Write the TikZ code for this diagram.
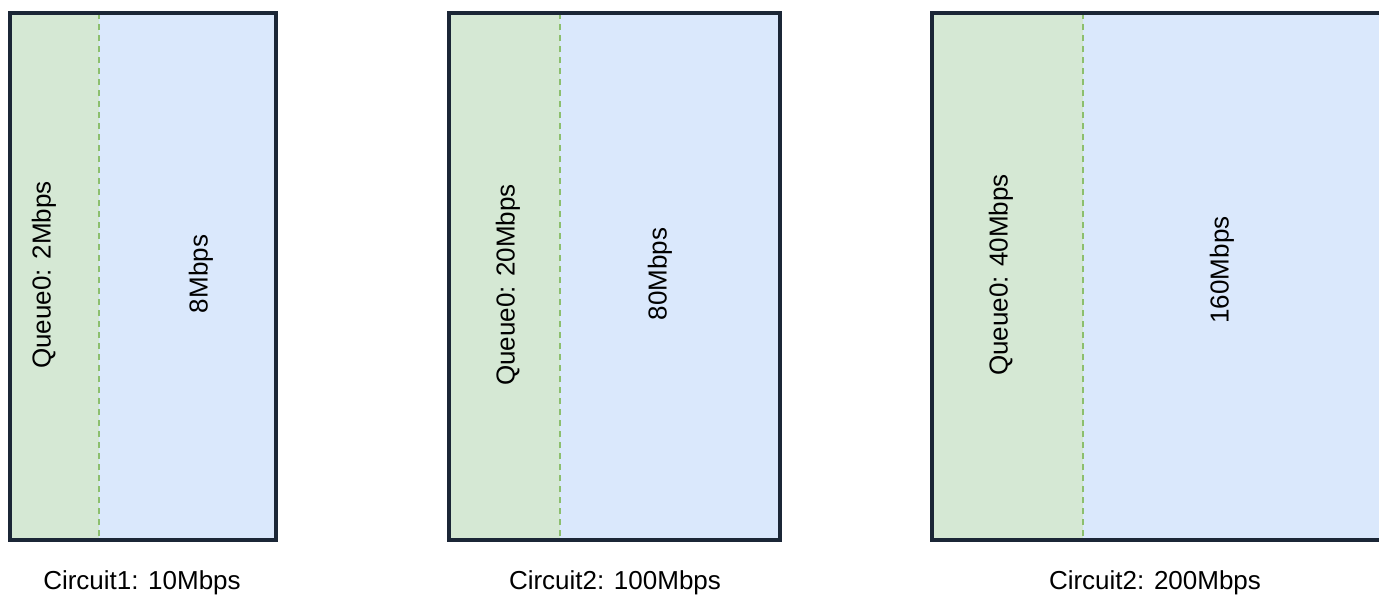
\documentclass[tikz,border=0pt]{standalone}
\usepackage{fontspec}
\setmainfont{Liberation Sans}
\definecolor{qgreen}{HTML}{D5E8D4}
\definecolor{qblue}{HTML}{DAE8FC}
\definecolor{qdash}{HTML}{8CBF6E}
\definecolor{qedge}{HTML}{1B2636}
\begin{document}
\begin{tikzpicture}[x=1pt,y=-1pt,
  greenpart/.style={fill=qgreen,draw=none},
  bluepart/.style={fill=qblue,draw=none},
  frame/.style={draw=qedge,line width=3.2pt},
  divider/.style={draw=qdash,line width=2.6pt,dash pattern=on 6pt off 5pt},
  vlabel/.style={rotate=90,font=\fontsize{26}{30}\selectfont,inner sep=0pt},
  caption/.style={font=\fontsize{26}{30}\selectfont,inner sep=0pt}]
\useasboundingbox (0,0) rectangle (1379,601);
\clip (0,0) rectangle (1379,601);
% Circuit 1
\fill[greenpart] (10,13) rectangle (99,540);
\fill[bluepart] (99,13) rectangle (276,540);
\draw[divider] (99,13) -- (99,540);
\draw[frame] (10,13) rectangle (276,540);
\node[vlabel] (q1) at (44,275) {Queue0: 2Mbps};
\node[vlabel] (r1) at (201,274) {8Mbps};
\node[caption] (c1) at (142,583) {Circuit1: 10Mbps};
% Circuit 2
\fill[greenpart] (449,13) rectangle (560,540);
\fill[bluepart] (560,13) rectangle (780,540);
\draw[divider] (560,13) -- (560,540);
\draw[frame] (449,13) rectangle (780,540);
\node[vlabel] (q2) at (508,285) {Queue0: 20Mbps};
\node[vlabel] (r2) at (660,274) {80Mbps};
\node[caption] (c2) at (615,583) {Circuit2: 100Mbps};
% Circuit 3
\fill[greenpart] (932,13) rectangle (1083,540);
\fill[bluepart] (1083,13) rectangle (1395,540);
\draw[divider] (1083,13) -- (1083,540);
\draw[frame] (932,13) rectangle (1395,540);
\node[vlabel] (q3) at (1001,275) {Queue0: 40Mbps};
\node[vlabel] (r3) at (1222,270) {160Mbps};
\node[caption] (c3) at (1155,583) {Circuit2: 200Mbps};
\end{tikzpicture}
\end{document}
